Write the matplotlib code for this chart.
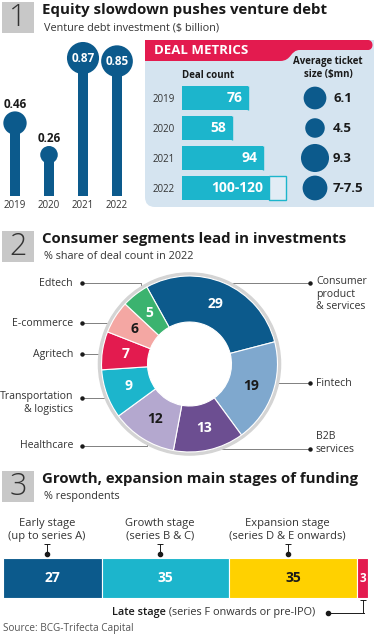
import matplotlib
matplotlib.use("Agg")
import matplotlib.pyplot as plt
import matplotlib.transforms as mtransforms
import numpy as np
from matplotlib.patches import FancyBboxPatch, PathPatch, Rectangle, Wedge
from matplotlib.path import Path

# Section 1: venture debt investment ($ billion)
years = ["2019", "2020", "2021", "2022"]
debt_investment = [0.46, 0.26, 0.87, 0.85]
debt_labels = ["0.46", "0.26", "0.87", "0.85"]

# Deal metrics panel
deal_count_low = [76, 58, 94, 100]
deal_count_high = [76, 58, 94, 120]
deal_count_labels = ["76", "58", "94", "100-120"]
ticket_size = [6.1, 4.5, 9.3, 7.25]
ticket_labels = ["6.1", "4.5", "9.3", "7-7.5"]

# Section 2: % share of deal count in 2022
segments = ["Consumer\nproduct\n& services", "Fintech", "B2B\nservices", "Healthcare",
            "Transportation\n& logistics", "Agritech", "E-commerce", "Edtech"]
segment_share = [29, 19, 13, 12, 9, 7, 6, 5]

# Section 3: % respondents
stages = ["Early stage\n(up to series A)", "Growth stage\n(series B & C)",
          "Expansion stage\n(series D & E onwards)", "Late stage"]
stage_share = [27, 35, 35, 3]

DARK = "#0C5A8C"
CYAN = "#1CB5CC"
RED = "#E31B4F"
PANEL = "#D5E4F0"
INK = "#1a1a1a"
GREY_LINE = "#808080"

plt.rcParams["font.family"] = ["Open Sans", "DejaVu Sans"]

W, H = 374, 636
fig = plt.figure(figsize=(W / 100, H / 100), dpi=100)


def px_axes(x0, y0, x1, y1):
    return fig.add_axes([x0 / W, 1 - y1 / H, (x1 - x0) / W, (y1 - y0) / H])


def clean(ax):
    for s in ax.spines.values():
        s.set_visible(False)
    ax.set_facecolor("none")


# background axes in pixel coordinates for layout decorations
bg = fig.add_axes([0, 0, 1, 1])
bg.set_xlim(0, W)
bg.set_ylim(H, 0)
bg.axis("off")


def header(top, num, title, subtitle):
    bg.add_patch(Rectangle((2, top), 32, 31, color="#C8C8C8", lw=0))
    bg.text(18, top + 16, num, ha="center", va="center", fontsize=22,
            fontweight="light", color="#333333")
    bg.text(42, top + 12, title, ha="left", va="baseline", fontsize=10.8,
            fontweight="bold", color=INK)
    bg.text(44, top + 28, subtitle, ha="left", va="baseline", fontsize=7.8,
            color="#333333")


header(2, "1", "Equity slowdown pushes venture debt", "Venture debt investment ($ billion)")
header(231, "2", "Consumer segments lead in investments", "% share of deal count in 2022")
header(471, "3", "Growth, expansion main stages of funding", "% respondents")

# ---- lollipops ----
ax1 = px_axes(0, 40, 134, 196)
clean(ax1)
x = np.arange(len(years))
ax1.bar(x, debt_investment, width=0.3, color=DARK, zorder=2)
radii = 17.2 * np.sqrt(debt_investment)  # px, area ~ value
ax1.scatter(x, debt_investment, s=(2 * radii * 0.72) ** 2, color=DARK, zorder=3,
            clip_on=False, linewidths=0)
for i, (v, lab, r) in enumerate(zip(debt_investment, debt_labels, radii)):
    if v >= 0.8:
        ax1.text(i, v, lab, ha="center", va="center", color="white",
                 fontsize=8.5, fontweight="bold", zorder=4)
    else:
        ax1.annotate(lab, (i, v), xytext=(0, (r + 7) * 0.72), textcoords="offset points",
                     ha="center", va="center", fontsize=8.5, fontweight="bold", color=INK)
ax1.set_xlim(-15 / 34, 119 / 34)
ax1.set_ylim(0, 156 / 158.6)
ax1.set_yticks([])
ax1.set_xticks(x, years)
ax1.tick_params(axis="x", length=0, pad=3, labelsize=7, labelcolor="#333333")

# ---- deal metrics panel ----
bg.add_patch(FancyBboxPatch((145, 40), 260, 167, boxstyle="round,pad=0,rounding_size=10",
                            fc=PANEL, ec="none"))
verts = [(145, 40), (368, 40), (374, 40), (374, 50), (368, 50), (300, 50),
         (290, 50), (292, 61), (280, 61), (145, 61), (145, 40)]
codes = [Path.MOVETO, Path.LINETO, Path.CURVE4, Path.CURVE4, Path.CURVE4, Path.LINETO,
         Path.CURVE4, Path.CURVE4, Path.CURVE4, Path.LINETO, Path.CLOSEPOLY]
bg.add_patch(PathPatch(Path(verts, codes), fc=RED, ec="none"))
bg.text(154, 51, "DEAL METRICS", color="white", fontsize=9.5, fontweight="bold",
        ha="left", va="center")
bg.text(208, 75, "Deal count", ha="center", va="center", fontsize=7, fontweight="bold", color=INK)
bg.text(328, 68, "Average ticket\nsize ($mn)", ha="center", va="center", fontsize=7,
        fontweight="bold", color=INK, linespacing=1.2)

ax2 = px_axes(182, 83, 290, 203)
clean(ax2)
rows = np.arange(len(years))
extra = np.array(deal_count_high) - np.array(deal_count_low)
ax2.barh(rows, extra, left=deal_count_low, height=0.77, fc="#E2ECF5", ec=CYAN, lw=1)
ax2.barh(rows, deal_count_low, height=0.77, color=CYAN, lw=0)
for i, (v, lab) in enumerate(zip(deal_count_low, deal_count_labels)):
    ax2.annotate(lab, (v, i), xytext=(-4, 0), textcoords="offset points", ha="right",
                 va="center", color="white", fontsize=10, fontweight="bold")
ax2.set_xlim(0, 108 / 0.865)
ax2.set_ylim(3.5, -0.5)
ax2.set_xticks([])
ax2.set_yticks(rows, years)
ax2.tick_params(axis="y", length=0, pad=5, labelsize=7, labelcolor="#333333")

ax3 = px_axes(295, 83, 374, 203)
clean(ax3)
ax3.axis("off")
ax3.scatter(np.zeros(len(ticket_size)), rows, s=43.9 * np.array(ticket_size), color=DARK,
            linewidths=0)
for i, lab in enumerate(ticket_labels):
    ax3.text(18, i, lab, ha="left", va="center", fontsize=9.5, fontweight="bold", color=INK)
ax3.set_xlim(-20, 59)
ax3.set_ylim(3.5, -0.5)

# ---- donut ----
cx, cy, R = 189.5, 364, 88
ax4 = px_axes(cx - 110, cy - 110, cx + 110, cy + 110)
seg_colors = [DARK, "#7FA8CE", "#6C4E91", "#B4A8CF", CYAN, RED, "#F4A7A3", "#3BB36F"]
text_colors = ["white", INK, "white", INK, "white", "white", INK, "white"]
ax4.add_patch(Wedge((0, 0), 1.035, 0, 360, width=0.06, color="#D4D4D4", zorder=0))
wedges, _ = ax4.pie(segment_share, radius=1, startangle=119, counterclock=False,
                    colors=seg_colors,
                    wedgeprops=dict(width=0.523, edgecolor="white", linewidth=0.8))
ax4.set_xlim(-1.25, 1.25)
ax4.set_ylim(-1.25, 1.25)
ax4.set_aspect("equal")

# label placement (pixel layout): text anchor x, dot y, side
label_layout = [
    (316, 283, "right", "top"), (316, 383, "right", "center"),
    (316, 449, "right", "bottom"), (73, 446, "left", "center"),
    (73, 398, "left", "top"), (73, 354, "left", "center"),
    (73, 323, "left", "center"), (73, 283, "left", "center"),
]
LBL = 7.6
for w, v, tc, name, (tx, ty, side, va) in zip(wedges, segment_share, text_colors,
                                               segments, label_layout):
    mid = np.deg2rad((w.theta1 + w.theta2) / 2)
    ax4.text(0.74 * np.cos(mid), 0.74 * np.sin(mid), str(v), ha="center", va="center",
             color=tc, fontsize=10, fontweight="bold")
    ax_x = cx + 0.9 * R * np.cos(mid)
    ax_y = cy - 0.9 * R * np.sin(mid)
    dot_x = 310 if side == "right" else 82
    bg.plot([dot_x, ax_x, ax_x], [ty, ty, ax_y], color=GREY_LINE, lw=0.7)
    bg.plot(dot_x, ty, "o", color=INK, ms=2.2)
    ha = "left" if side == "right" else "right"
    if va == "top":
        bg.text(tx, ty - 7, name, ha=ha, va="top", fontsize=LBL, color="#333333",
                linespacing=1.2)
    elif va == "bottom":
        bg.text(tx, ty + 6, name, ha=ha, va="bottom", fontsize=LBL, color="#333333",
                linespacing=1.2)
    else:
        bg.text(tx, ty, name, ha=ha, va="center", fontsize=LBL, color="#333333")

# ---- stacked bar ----
ax5 = px_axes(3, 558, 368, 598)
clean(ax5)
ax5.axis("off")
stage_colors = [DARK, CYAN, "#FFD100", RED]
stage_text = ["white", "white", INK, "white"]
left = np.concatenate([[0], np.cumsum(stage_share)[:-1]])
ax5.barh(0, stage_share, left=left, height=1, color=stage_colors, edgecolor="white", lw=0.8)
for l, v, tc in zip(left, stage_share, stage_text):
    ax5.text(l + v / 2, 0, str(v), ha="center", va="center", color=tc,
             fontsize=10 if v > 5 else 8.5, fontweight="bold")
ax5.set_xlim(0, 100)
ax5.set_ylim(-0.5, 0.5)

blend = mtransforms.blended_transform_factory(ax5.transData, bg.transData)
for l, v, name in zip(left[:3], stage_share[:3], stages[:3]):
    c = l + v / 2 - 1.5
    bg.text(c, 530, name, transform=blend, ha="center", va="center", fontsize=8,
            color="#333333", linespacing=1.2)
    bg.plot([c, c], [544, 554], transform=blend, color=INK, lw=0.7)
    bg.plot([c], [544], transform=blend, marker="_", ms=5, color=INK, mew=0.7)
    bg.plot([c], [554], transform=blend, marker="o", ms=3, color=INK)

late_c = left[3] + stage_share[3] / 2
bg.plot([late_c, late_c], [600, 613], transform=blend, color=INK, lw=0.7)
bg.plot([late_c], [600], transform=blend, marker="_", ms=5, color=INK, mew=0.7)
bg.plot([328, 364], [613, 613], color=INK, lw=0.7)
bg.plot(328, 613, "o", color=INK, ms=3)
t_reg = bg.text(315, 613, " (series F onwards or pre-IPO)", ha="right", va="center",
                fontsize=7.8, color="#333333")
fig.canvas.draw()
bb = t_reg.get_window_extent(fig.canvas.get_renderer())
bg.text(bb.x0, 613, stages[3], ha="right", va="center", fontsize=7.8,
        fontweight="semibold", color=INK)

bg.text(3, 628, "Source: BCG-Trifecta Capital", ha="left", va="center", fontsize=7.2,
        color="#555555")

fig.savefig("out.png", dpi=100)
